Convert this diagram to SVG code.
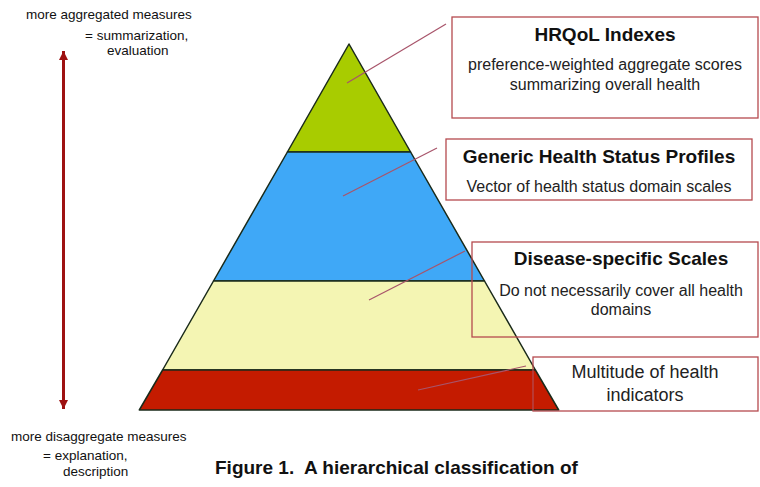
<svg xmlns="http://www.w3.org/2000/svg" width="760" height="487" viewBox="0 0 760 487">
  <defs>
    <style>
      text { font-family: "Liberation Sans", Arial, sans-serif; fill: #111; }
      .side { font-size: 13.5px; }
      .title { font-size: 19px; font-weight: bold; text-anchor: middle; }
      .sub { font-size: 16px; text-anchor: middle; fill: #222; }
      .plain { font-size: 18px; text-anchor: middle; fill: #222; }
      .caption { font-size: 19px; font-weight: bold; }
      .tier { stroke: #1a2a1a; stroke-width: 1.5; stroke-linejoin: round; }
      .box { fill: none; stroke: #b54a4f; stroke-width: 1.3; }
      .leader { stroke: #a8546a; stroke-width: 1.2; fill: none; }
      .axis { stroke: #9e1111; stroke-width: 3; }
    </style>
    <marker id="head" viewBox="0 0 10 10" refX="10" refY="5" markerWidth="3" markerHeight="3.4" orient="auto-start-reverse" markerUnits="strokeWidth">
      <path d="M0,0 L10,5 L0,10 Z" fill="#9e1111"/>
    </marker>
  </defs>

  <rect width="760" height="487" fill="#ffffff"/>

  <!-- pyramid tiers, top to bottom -->
  <g id="pyramid">
    <polygon id="tier-indexes" class="tier" fill="#a8cc00" points="349,44 410.6,152 287.4,152"/>
    <polygon id="tier-profiles" class="tier" fill="#3fa8f7" points="287.4,152 410.6,152 484.5,281 213.5,281"/>
    <polygon id="tier-disease" class="tier" fill="#f4f5b3" points="213.5,281 484.5,281 535.4,370 162.6,370"/>
    <polygon id="tier-indicators" class="tier" fill="#c41b00" points="162.6,370 535.4,370 558.7,410 139.3,410"/>
  </g>

  <!-- vertical aggregation axis -->
  <g id="axis">
    <line class="axis" x1="63.5" y1="51" x2="63.5" y2="409" marker-start="url(#head)" marker-end="url(#head)"/>
    <text class="side" x="26" y="19">more aggregated measures</text>
    <text class="side" x="85" y="40">= summarization,</text>
    <text class="side" x="107" y="55">evaluation</text>
    <text class="side" x="11" y="441">more disaggregate measures</text>
    <text class="side" x="43" y="460">= explanation,</text>
    <text class="side" x="63" y="476">description</text>
  </g>

  <!-- leader lines from tiers to their boxes -->
  <g id="connectors">
    <line class="leader" x1="347" y1="83" x2="446" y2="24"/>
    <line class="leader" x1="343" y1="196" x2="437" y2="148"/>
    <line class="leader" x1="369" y1="300" x2="465" y2="251"/>
    <line class="leader" x1="418" y1="390" x2="526" y2="366"/>
  </g>

  <g id="box-indexes">
    <rect class="box" x="452" y="17" width="306" height="101"/>
    <text class="title" x="605" y="41">HRQoL Indexes</text>
    <text class="sub" x="605" y="70">preference-weighted aggregate scores</text>
    <text class="sub" x="605" y="90">summarizing overall health</text>
  </g>

  <g id="box-profiles">
    <rect class="box" x="446" y="139" width="306" height="61"/>
    <text class="title" x="599" y="163">Generic Health Status Profiles</text>
    <text class="sub" x="599" y="192">Vector of health status domain scales</text>
  </g>

  <g id="box-disease">
    <rect class="box" x="472" y="242" width="286" height="95"/>
    <text class="title" x="621" y="265">Disease-specific Scales</text>
    <text class="sub" x="621" y="296">Do not necessarily cover all health</text>
    <text class="sub" x="621" y="315">domains</text>
  </g>

  <g id="box-indicators">
    <rect class="box" x="533" y="357" width="225" height="54"/>
    <text class="plain" x="645" y="378">Multitude of health</text>
    <text class="plain" x="645" y="401">indicators</text>
  </g>

  <text class="caption" x="215" y="474">Figure 1.&#160; A hierarchical classification of</text>
</svg>
